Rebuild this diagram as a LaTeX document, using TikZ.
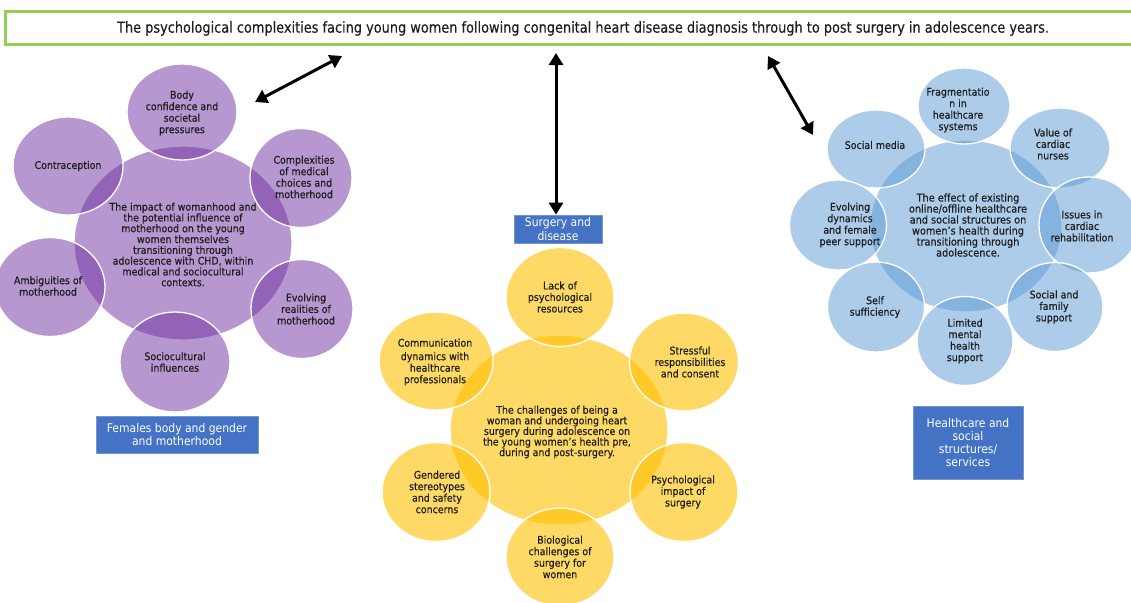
\documentclass[tikz,border=0pt]{standalone}
\usepackage{fontspec}
\setmainfont[FakeStretch=0.9,FakeBold=0.5]{DejaVu Sans}
\newfontfamily\titlefont[FakeStretch=0.86,FakeBold=0.3]{DejaVu Sans}
\newfontfamily\tagfont[FakeStretch=0.9]{DejaVu Sans}
\usetikzlibrary{arrows.meta,shapes.geometric}
\definecolor{purp}{HTML}{7030A0}
\definecolor{gold}{HTML}{FFC000}
\definecolor{sky}{HTML}{5B9BD5}
\definecolor{boxblue}{HTML}{4472C4}
\definecolor{titlegreen}{HTML}{92D050}
\definecolor{txt}{HTML}{1E1E1E}
\tikzset{
  bubble/.style={ellipse, draw=white, line width=1.3pt, inner sep=0pt},
  pbub/.style={bubble, fill=purp, fill opacity=0.5},
  gbub/.style={bubble, fill=gold, fill opacity=0.6},
  bbub/.style={bubble, fill=sky, fill opacity=0.5},
  sat/.style={align=center, text=txt, inner sep=0pt, font=\fontsize{10.5}{11.5}\selectfont},
  hubtext/.style={align=center, text=txt, inner sep=0pt, font=\fontsize{10.5}{10.8}\selectfont},
  tag/.style={rectangle, fill=boxblue, draw=boxblue!75!white, line width=0.8pt, text=white, align=center, inner sep=0pt, font=\tagfont\fontsize{12}{13.3}\selectfont},
  link/.style={line width=3pt, black, {Triangle[length=12pt,width=14pt]}-{Triangle[length=12pt,width=14pt]}},
  titleframe/.style={draw=titlegreen, line width=3pt},
}
\begin{document}
\begin{tikzpicture}[x=1pt,y=-1pt]
\useasboundingbox (0,0) rectangle (1131,602);
\fill[white] (0,0) rectangle (1131,602);

% title
\draw[titleframe] (1131,12) -- (5,12) -- (5,44.5) -- (1131,44.5);
\node[text=txt, inner sep=0pt, font=\titlefont\fontsize{15}{16}\selectfont] (title) at (583,28.5)
  {The psychological complexities facing young women following congenital heart disease diagnosis through to post surgery in adolescence years.};

% ---------------- left (purple) cluster
\node[pbub, minimum width=218pt, minimum height=194pt] (phub) at (183,243) {};
\node[pbub, minimum width=110pt, minimum height=96pt] (pbody) at (182,112) {};
\node[pbub, minimum width=110pt, minimum height=98pt] (pcontra) at (68,166) {};
\node[pbub, minimum width=102pt, minimum height=99pt] (pcomplex) at (301,178) {};
\node[pbub, minimum width=110pt, minimum height=99pt] (pambig) at (50,287) {};
\node[pbub, minimum width=102pt, minimum height=99pt] (pevolve) at (302,309) {};
\node[pbub, minimum width=110pt, minimum height=100pt] (psocio) at (175,362) {};

\node[hubtext] (tphub) at (183,244.5) {The impact of womanhood and\\the potential influence of\\motherhood on the young\\women themselves\\transitioning through\\adolescence with CHD, within\\medical and sociocultural\\contexts.};
\node[sat] (tpbody) at (182,113) {Body\\confidence and\\societal\\pressures};
\node[sat] (tpcontra) at (68,166) {Contraception};
\node[sat] (tpcomplex) at (304,177) {Complexities\\of medical\\choices and\\motherhood};
\node[sat] (tpambig) at (48,286) {Ambiguities of\\motherhood};
\node[sat] (tpevolve) at (306,309) {Evolving\\realities of\\motherhood};
\node[sat] (tpsocio) at (175,362) {Sociocultural\\influences};

\node[tag, minimum width=162pt, minimum height=37pt] (femtag) at (177,434.5) {Females body and gender\\and motherhood};

% ---------------- middle (gold) cluster
\node[gbub, minimum width=218pt, minimum height=190pt] (ghub) at (559,430) {};
\node[gbub, minimum width=108pt, minimum height=99pt] (glack) at (560,297) {};
\node[gbub, minimum width=114pt, minimum height=98pt] (gcomm) at (436,361) {};
\node[gbub, minimum width=109pt, minimum height=98pt] (gstress) at (684,362) {};
\node[gbub, minimum width=108pt, minimum height=99pt] (ggender) at (436,492) {};
\node[gbub, minimum width=108pt, minimum height=99pt] (gpsych) at (684,492) {};
\node[gbub, minimum width=108pt, minimum height=98pt] (gbio) at (560,557) {};

\node[hubtext, font=\fontsize{10.5}{10.6}\selectfont] (tghub) at (557,432) {The challenges of being a\\woman and undergoing heart\\surgery during adolescence on\\the young women’s health pre,\\during and post-surgery.};
\node[sat] (tglack) at (560,297) {Lack of\\psychological\\resources};
\node[sat] (tgcomm) at (435,362) {Communication\\[2pt]dynamics with\\healthcare\\professionals};
\node[sat] (tgstress) at (690,362) {Stressful\\responsibilities\\and consent};
\node[sat] (tggender) at (437,492) {Gendered\\stereotypes\\and safety\\concerns};
\node[sat] (tgpsych) at (683,492) {Psychological\\impact of\\surgery};
\node[sat] (tgbio) at (560,557) {Biological\\challenges of\\surgery for\\women};

\node[tag, minimum width=88pt, minimum height=28pt] (surgtag) at (558,229) {Surgery and\\disease};

% ---------------- right (blue) cluster
\node[bbub, minimum width=192pt, minimum height=172pt] (bhub) at (966,226) {};
\node[bbub, minimum width=92pt, minimum height=76pt] (bfrag) at (964,106) {};
\node[bbub, minimum width=98pt, minimum height=78pt] (bsocial) at (876,149) {};
\node[bbub, minimum width=100pt, minimum height=80pt] (bvalue) at (1060,148) {};
\node[bbub, minimum width=97pt, minimum height=90pt] (bevolve) at (838,225) {};
\node[bbub, minimum width=100pt, minimum height=96pt] (bissues) at (1089,225) {};
\node[bbub, minimum width=97pt, minimum height=90pt] (bself) at (876,307) {};
\node[bbub, minimum width=96pt, minimum height=89pt] (blimited) at (965,341) {};
\node[bbub, minimum width=96pt, minimum height=89pt] (bfamily) at (1055,307) {};

\node[hubtext, font=\fontsize{10.8}{11}\selectfont] (tbhub) at (968,225) {The effect of existing\\online/offline healthcare\\and social structures on\\women’s health during\\transitioning through\\adolescence.};
\node[sat] (tbfrag) at (958,110) {Fragmentatio\\n in\\healthcare\\systems};
\node[sat] (tbsocial) at (875,145) {Social media};
\node[sat] (tbvalue) at (1053,144) {Value of\\cardiac\\nurses};
\node[sat] (tbevolve) at (850,225) {Evolving\\dynamics\\and female\\peer support};
\node[sat] (tbissues) at (1082,226) {Issues in\\cardiac\\rehabilitation};
\node[sat] (tbself) at (875,307) {Self\\sufficiency};
\node[sat] (tblimited) at (965,341) {Limited\\mental\\health\\support};
\node[sat] (tbfamily) at (1054,307) {Social and\\family\\support};

\node[tag, minimum width=110pt, minimum height=73pt] (healthtag) at (968,442.5) {Healthcare and\\social\\structures/\\services};

% ---------------- arrows
\coordinate (aLa) at (255,102);
\coordinate (aLb) at (342,56);
\coordinate (aMa) at (556,53);
\coordinate (aRa) at (768,56);
\coordinate (aRb) at (813,135);
\draw[link] (aLa) -- (aLb);
\draw[link] (aMa) -- (aMa |- surgtag.north);
\draw[link] (aRa) -- (aRb);
\end{tikzpicture}
\end{document}
